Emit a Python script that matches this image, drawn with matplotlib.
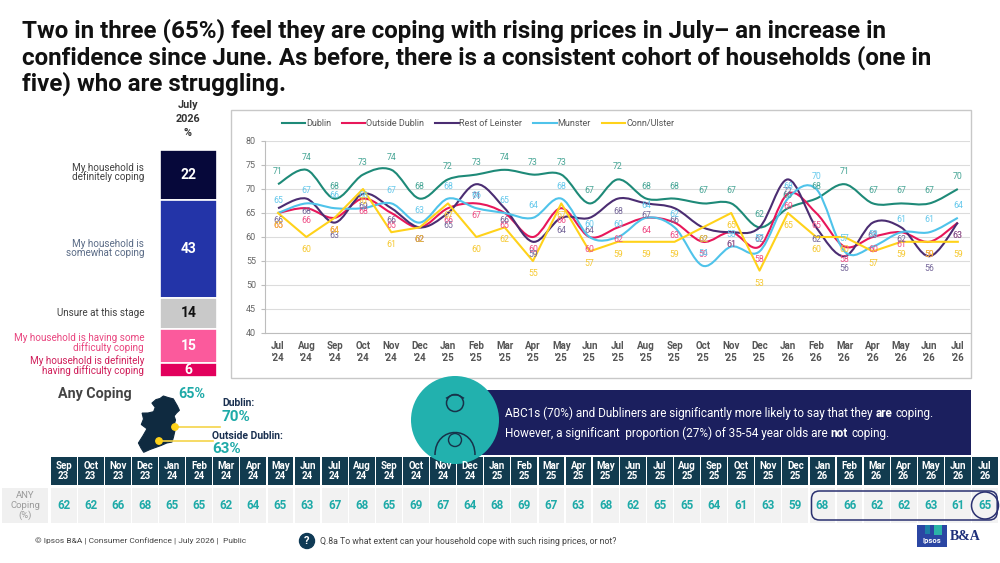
import matplotlib
matplotlib.use('Agg')
import matplotlib.pyplot as plt
from matplotlib.patches import Rectangle, Circle, Ellipse, FancyBboxPatch, Polygon, PathPatch
from matplotlib.path import Path
from matplotlib.lines import Line2D

plt.rcParams['font.family'] = ['Roboto', 'DejaVu Sans']

# ---------------- data ----------------
chart_months = ['Jul', 'Aug', 'Sep', 'Oct', 'Nov', 'Dec', 'Jan', 'Feb', 'Mar', 'Apr', 'May', 'Jun',
                'Jul', 'Aug', 'Sep', 'Oct', 'Nov', 'Dec', 'Jan', 'Feb', 'Mar', 'Apr', 'May', 'Jun', 'Jul']
chart_years = ['24'] * 6 + ['25'] * 12 + ['26'] * 7

dublin = [71, 74, 68, 73, 74, 68, 72, 73, 74, 73, 73, 67, 72, 68, 68, 67, 67, 62, 66, 68, 71, 67, 67, 67, 70]
outside_dublin = [65, 66, 64, 68, 65, 62, 66, 67, 65, 60, 66, 60, 62, 64, 63, 59, 61, 58, 69, 65, 58, 60, 61, 59, 63]
rest_of_leinster = [66, 68, 63, 69, 66, 62, 65, 71, 66, 59, 64, 64, 68, 67, 66, 62, 61, 62, 72, 62, 56, 63, 62, 56, 63]
munster = [65, 67, 66, 66, 67, 63, 68, 66, 65, 64, 68, 60, 60, 64, 62, 54, 58, 57, 68, 70, 57, 58, 61, 61, 64]
conn_ulster = [65, 60, 64, 70, 61, 62, 67, 60, 62, 55, 67, 57, 59, 59, 59, 62, 65, 53, 65, 60, 60, 57, 59, 59, 59]
series_names = ['Dublin', 'Outside Dublin', 'Rest of Leinster', 'Munster', 'Conn/Ulster']

bar_labels = ['My household is\ndefinitely coping', 'My household is\nsomewhat coping',
              'Unsure at this stage', 'My household is having some\ndifficulty coping',
              'My household is definitely\nhaving difficulty coping']
bar_values = [22, 43, 14, 15, 6]

table_months = ['Sep', 'Oct', 'Nov', 'Dec', 'Jan', 'Feb', 'Mar', 'Apr', 'May', 'Jun', 'Jul', 'Aug', 'Sep', 'Oct',
                'Nov', 'Dec', 'Jan', 'Feb', 'Mar', 'Apr', 'May', 'Jun', 'Jul', 'Aug', 'Sep', 'Oct', 'Nov', 'Dec',
                'Jan', 'Feb', 'Mar', 'Apr', 'May', 'Jun', 'Jul']
table_years = ['23'] * 4 + ['24'] * 12 + ['25'] * 12 + ['26'] * 7
any_coping = [62, 62, 66, 68, 65, 65, 62, 64, 65, 63, 67, 68, 65, 69, 67, 64, 68, 69, 67, 63, 68, 62, 65, 65,
              64, 61, 63, 59, 68, 66, 62, 62, 63, 61, 65]

# ---------------- styles ----------------
line_colors = ['#1e8a78', '#e8175a', '#4b2d72', '#4fc3ea', '#ffd21a']
label_colors = ['#46a595', '#ef4f86', '#76689a', '#67c9ec', '#f6c932']
label_offsets = [9, -9, -9, 9, -9]
smooth = [True, True, True, True, False]
bar_colors = ['#06083a', '#2334a8', '#c9c9c9', '#fb5a9c', '#e2005c']
bar_text_colors = ['white', 'white', '#111111', 'white', 'white']
bar_label_colors = ['#404040', '#5a6b86', '#404040', '#e9447e', '#d01e5a']
bar_label_shift = [-1, 0, 0, -1.4, -2.0]
TEAL = '#1eaaa8'
NAVY_BOX = '#1b1f5e'
TABLE_HEAD = '#123b4f'

W, H = 1000, 563
fig = plt.figure(figsize=(10, 5.63), dpi=100)
bg = fig.add_axes([0, 0, 1, 1])
bg.set_xlim(0, W)
bg.set_ylim(H, 0)
bg.axis('off')

# ---------------- title ----------------
bg.text(22, 19, 'Two in three (65%) feel they are coping with rising prices in July– an increase in\n'
        'confidence since June. As before, there is a consistent cohort of households (one in\n'
        'five) who are struggling.', fontsize=17.4, fontweight='bold', color='#111111',
        va='top', ha='left', linespacing=1.1)

# ---------------- stacked bar ----------------
bg.text(188, 119, 'July\n2026\n%', fontsize=7.8, fontweight='bold', color='#333333',
        ha='center', va='center', linespacing=1.45)
bax = fig.add_axes([160 / W, 1 - 377 / H, 57 / W, 227 / H])
bax.set_xlim(-0.5, 0.5)
bax.set_ylim(100, 0)
bax.axis('off')
bottom = 0
for val, lab, c, tc, lc, sh in zip(bar_values, bar_labels, bar_colors, bar_text_colors, bar_label_colors,
                                   bar_label_shift):
    bax.bar(0, val, bottom=bottom, width=1.0, color=c, edgecolor='white', linewidth=1.2)
    mid = bottom + val / 2
    bax.text(0, mid, str(val), ha='center', va='center', fontsize=10, fontweight='bold', color=tc)
    bax.text(-0.78, mid + sh, lab, ha='right', va='center', fontsize=7.1, color=lc, linespacing=0.85)
    bottom += val

# ---------------- line chart ----------------
bg.add_patch(Rectangle((231, 110), 740, 268, fill=False, edgecolor='#c8c8c8', linewidth=1.0))
ax = fig.add_axes([265 / W, 1 - 333 / H, 705 / W, 192 / H])
ax.set_facecolor('none')
x = list(range(len(chart_months)))
ax.set_xlim(-0.46, 24.43)
ax.set_ylim(40, 80)
ax.set_yticks(range(40, 81, 5))
ax.grid(axis='y', color='#dcdcdc', linewidth=0.8)
ax.set_axisbelow(True)
for s in ['top', 'right']:
    ax.spines[s].set_visible(False)
for s in ['left', 'bottom']:
    ax.spines[s].set_color('#bdbdbd')
ax.tick_params(axis='y', labelsize=6.5, labelcolor='#666666', color='#bdbdbd', length=3)
ax.tick_params(axis='x', labelsize=7, labelcolor='#555555', color='#bdbdbd', length=0, pad=6)
ax.set_xticks(x)
ax.set_xticklabels([f"{m}\n'{y}" for m, y in zip(chart_months, chart_years)], fontweight='bold',
                   linespacing=1.2)


def smooth_path(xs, ys):
    verts = [(xs[0], ys[0])]
    codes = [Path.MOVETO]
    n = len(xs)
    for i in range(n - 1):
        x0, y0 = xs[max(i - 1, 0)], ys[max(i - 1, 0)]
        x1, y1 = xs[i], ys[i]
        x2, y2 = xs[i + 1], ys[i + 1]
        x3, y3 = xs[min(i + 2, n - 1)], ys[min(i + 2, n - 1)]
        verts += [(x1 + (x2 - x0) / 6, y1 + (y2 - y0) / 6),
                  (x2 - (x3 - x1) / 6, y2 - (y3 - y1) / 6),
                  (x2, y2)]
        codes += [Path.CURVE4] * 3
    return Path(verts, codes)


all_series = [dublin, outside_dublin, rest_of_leinster, munster, conn_ulster]
handles = []
for k, (ys, name) in enumerate(zip(all_series, series_names)):
    if smooth[k]:
        ax.add_patch(PathPatch(smooth_path(x, ys), fill=False, edgecolor=line_colors[k], linewidth=1.5,
                               zorder=3 + k * 0.1))
    else:
        ax.plot(x, ys, color=line_colors[k], linewidth=1.5, zorder=3 + k * 0.1)
    handles.append(Line2D([0], [0], color=line_colors[k], linewidth=1.5))
    for xi, yi in zip(x, ys):
        ax.annotate(str(yi), (xi, yi), xytext=(0, label_offsets[k]), textcoords='offset points',
                    ha='center', va='center', fontsize=6.3, color=label_colors[k], zorder=6)

fig.legend(handles, series_names, loc='center', bbox_to_anchor=(478 / W, 1 - 124 / H), ncol=5,
           frameon=False, fontsize=6.5, labelcolor='#555555', handlelength=2.6, handletextpad=0.1,
           columnspacing=1.2)

# ---------------- any coping / map ----------------
bg.text(58, 394, 'Any Coping', fontsize=10.3, fontweight='bold', color='#444444', va='center', ha='left')
bg.text(178, 394, '65%', fontsize=10.3, fontweight='bold', color=TEAL, va='center', ha='left')
ireland = [(163.4, 396), (168, 397.5), (173.3, 398.9), (177.4, 406), (179.4, 410.3), (176.5, 413),
           (174.1, 416), (175.5, 420), (174.1, 425.2), (174.9, 430.9), (173.5, 437), (172.0, 442),
           (166.7, 443), (161, 445.5), (156.0, 447.3), (150, 449.5), (143.7, 452.3), (141, 448),
           (138.4, 443), (142.9, 435.9), (147.0, 428.8), (141.3, 424.5), (143.5, 419), (142.1, 413.1),
           (148, 413), (153.6, 411.7), (155.2, 407.4), (151.9, 403.1), (156.0, 399.6), (160, 398.5)]
bg.add_patch(Polygon(ireland, closed=True, facecolor='#0f2a40', edgecolor='#0f2a40', linewidth=0.8))
bg.plot([175, 220], [427, 427], color='#f5d44a', linewidth=1.2)
bg.plot([159, 213], [441, 441], color='#f5d44a', linewidth=1.2)
bg.add_patch(Circle((175, 427), 3.2, color='#ffd21a', zorder=5))
bg.add_patch(Circle((159, 441), 3.2, color='#ffd21a', zorder=5))
bg.text(222, 403, 'Dublin:', fontsize=7.5, fontweight='bold', color='#1a3050', va='center')
bg.text(222, 417, '70%', fontsize=11, fontweight='bold', color=TEAL, va='center')
bg.text(212, 436, 'Outside Dublin:', fontsize=7.5, fontweight='bold', color='#1a3050', va='center')
bg.text(212, 449, '63%', fontsize=11, fontweight='bold', color=TEAL, va='center')

# ---------------- navy insight box ----------------
bg.add_patch(Rectangle((470, 390), 501, 65, facecolor=NAVY_BOX, edgecolor='none'))
bg.add_patch(Circle((455, 420), 44, facecolor='#22b1ae', edgecolor='none', zorder=3))
ic = '#17324a'
bg.add_patch(Circle((455, 403), 8.5, fill=False, edgecolor=ic, linewidth=1.1, zorder=4))
shoulders = Path([(435, 455), (435, 425), (475, 425), (475, 455)],
                 [Path.MOVETO, Path.CURVE4, Path.CURVE4, Path.CURVE4])
bg.add_patch(PathPatch(shoulders, fill=False, edgecolor=ic, linewidth=1.1, zorder=4))
bg.add_patch(Circle((455, 440), 6.5, fill=False, edgecolor=ic, linewidth=1.0, zorder=4))
bg.plot([446.5, 452, 458, 463.5], [398, 395, 395, 398], color=ic, linewidth=1.0, zorder=4)

fs = 8.5
t1 = bg.text(505, 417, 'ABC1s (70%) and Dubliners are significantly more likely to say that they',
             color='white', fontsize=fs, va='baseline', ha='left')
t2 = bg.annotate('are', xy=(1, 0), xycoords=t1, xytext=(2.3, 0), textcoords='offset points',
                 color='white', fontsize=fs, fontweight='bold', va='bottom', ha='left')
bg.annotate('coping.', xy=(1, 0), xycoords=t2, xytext=(2.3, 0), textcoords='offset points',
            color='white', fontsize=fs, va='bottom', ha='left')
t3 = bg.text(505, 437, 'However, a significant  proportion (27%) of 35-54 year olds are',
             color='white', fontsize=fs, va='baseline', ha='left')
t4 = bg.annotate('not', xy=(1, 0), xycoords=t3, xytext=(2.3, 0), textcoords='offset points',
                 color='white', fontsize=fs, fontweight='bold', va='bottom', ha='left')
bg.annotate('coping.', xy=(1, 0), xycoords=t4, xytext=(2.3, 0), textcoords='offset points',
            color='white', fontsize=fs, va='bottom', ha='left')

# ---------------- table ----------------
x0, cw = 50.7, 27.1
bg.add_patch(Rectangle((2, 488), 46, 35, facecolor='#f0f0f0', edgecolor='none'))
bg.text(25, 505.5, 'ANY\nCoping\n(%)', fontsize=6.8, color='#9a9a9a', ha='center', va='center',
        linespacing=1.05)
for i, (m, yv, v) in enumerate(zip(table_months, table_years, any_coping)):
    cx = x0 + i * cw
    bg.add_patch(Rectangle((cx, 457), cw - 1.3, 28, facecolor=TABLE_HEAD, edgecolor='none'))
    bg.text(cx + (cw - 1.3) / 2, 471, f'{m}\n{yv}', fontsize=7, fontweight='bold', color='white',
            ha='center', va='center', linespacing=1.05)
    bg.add_patch(Rectangle((cx, 488), cw - 1.3, 35, facecolor='#f2f2f2', edgecolor='none'))
    bg.text(cx + (cw - 1.3) / 2, 505.5, str(v), fontsize=8.4, fontweight='bold', color=TEAL,
            ha='center', va='center')
bg.add_patch(FancyBboxPatch((x0 + 28 * cw + 2, 491), 6 * cw + cw - 4, 29,
                            boxstyle='round,pad=0,rounding_size=8', fill=False, edgecolor='#2a3070',
                            linewidth=1.1, zorder=5))
bg.add_patch(Ellipse((x0 + 34 * cw + (cw - 1.3) / 2, 505.5), 27, 27, fill=False, edgecolor='#2a3070',
                     linewidth=1.1, zorder=5))

# ---------------- footer ----------------
bg.text(35, 541, '© Ipsos B&A | Consumer Confidence | July 2026 |  Public', fontsize=6, color='#444444',
        va='center', ha='left')
bg.add_patch(Circle((307, 541), 7.5, color='#0f3a55'))
bg.text(307, 541.5, '?', fontsize=8, fontweight='bold', color='white', ha='center', va='center')
bg.text(320, 541, 'Q.8a To what extent can your household cope with such rising prices, or not?',
        fontsize=6.3, color='#444444', va='center', ha='left')
bg.add_patch(Rectangle((917, 525), 30, 22, facecolor='#2b46a3', edgecolor='none'))
bg.add_patch(Rectangle((925, 525), 5, 9, facecolor='#1c7fa6', edgecolor='none'))
bg.add_patch(Rectangle((934, 525), 8, 10, facecolor='#2bb3a7', edgecolor='none'))
bg.text(932, 541, 'Ipsos', fontsize=5.5, fontweight='bold', color='white', ha='center', va='center')
bg.text(950, 536, 'B&A', fontsize=10, fontweight='bold', color='#1e2f7a', ha='left', va='center',
        family=['Liberation Serif', 'DejaVu Serif'])

fig.savefig('out.png', dpi=100)
